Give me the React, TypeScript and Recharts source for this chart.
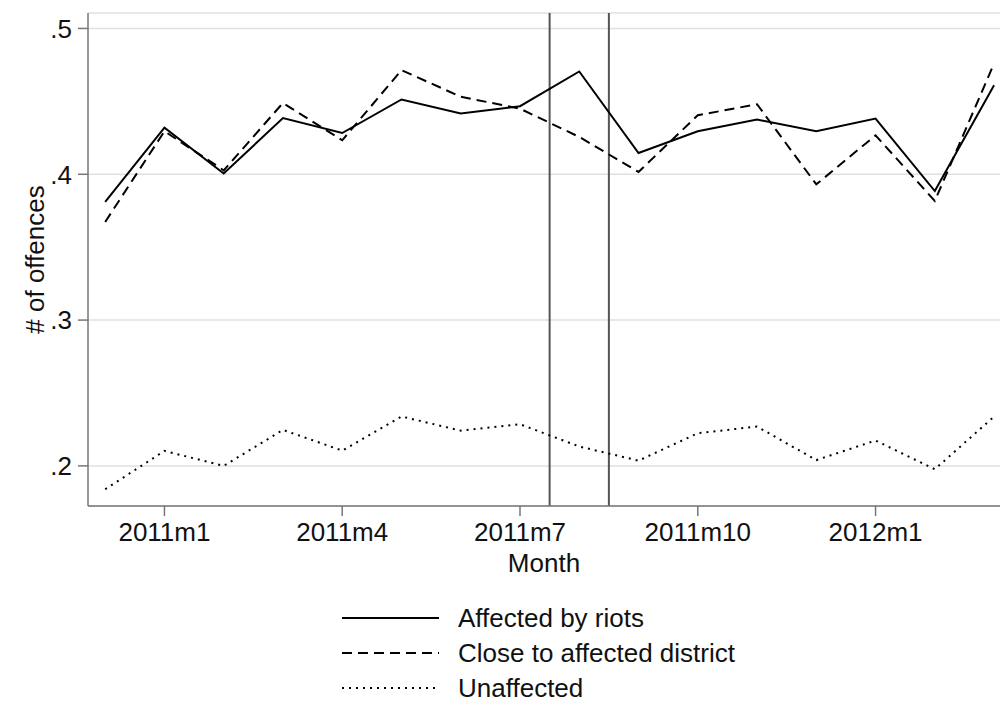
import React from 'react';
import {
  LineChart,
  Line,
  XAxis,
  YAxis,
  CartesianGrid,
  Legend,
  ReferenceLine
} from 'recharts';

const months = [
  '2010m12', '2011m1', '2011m2', '2011m3', '2011m4', '2011m5', '2011m6', '2011m7',
  '2011m8', '2011m9', '2011m10', '2011m11', '2011m12', '2012m1', '2012m2', '2012m3'
];

const affected = [
  0.381, 0.432, 0.4005, 0.4386, 0.4283, 0.4513, 0.4417, 0.4467,
  0.4705, 0.4146, 0.4295, 0.4375, 0.4295, 0.4382, 0.3885, 0.461
];

const closeTo = [
  0.3673, 0.4295, 0.4027, 0.4489, 0.4233, 0.4714, 0.4532, 0.445,
  0.4256, 0.4016, 0.4405, 0.448, 0.3931, 0.4267, 0.3817, 0.476
];

const unaffected = [
  0.184, 0.2103, 0.2, 0.2247, 0.2105, 0.2339, 0.2242, 0.2286,
  0.2133, 0.2036, 0.2224, 0.227, 0.204, 0.2174, 0.1977, 0.2338
];

const xTicks = [1, 4, 7, 10, 13];
const yTicks = [0.2, 0.3, 0.4, 0.5];
// riot period falls between July and August / August and September
const riotMarkers = [7.5, 8.5];

const legendItems = [
  { name: 'Affected by riots', dash: undefined },
  { name: 'Close to affected district', dash: '10 6' },
  { name: 'Unaffected', dash: '2 5' }
];

const FONT = '"Liberation Sans", Arial, Helvetica, sans-serif';
const FS = 26;

const data = months.map((m, i) => ({
  idx: i,
  month: m,
  affected: affected[i],
  close: closeTo[i],
  unaffected: unaffected[i]
}));

const LegendBox = () => (
  <svg width={1000} height={106} style={{ display: 'block' }}>
    {legendItems.map((item, i) => {
      const y = 17 + i * 35;
      return (
        <g key={item.name}>
          <line x1={342} x2={439} y1={y} y2={y} stroke="#000" strokeWidth={2} strokeDasharray={item.dash} />
          <text x={458} y={y} dominantBaseline="central" fontSize={FS} fontFamily={FONT} fill="#111">
            {item.name}
          </text>
        </g>
      );
    })}
  </svg>
);

export default function App() {
  return (
    <div style={{ position: 'absolute', top: 0, left: 0, background: '#fff', fontFamily: FONT }}>
      <LineChart width={1000} height={709} data={data} margin={{ top: 13, right: 0, left: 0, bottom: 2 }}>
        <CartesianGrid vertical={false} stroke="#e0e0e0" strokeWidth={1.5} />
        <XAxis
          dataKey="idx"
          type="number"
          domain={[-0.29, 15.1]}
          ticks={xTicks}
          tickFormatter={(v: number) => months[v]}
          height={95}
          tickSize={10}
          tickMargin={7}
          stroke="#777"
          strokeWidth={1.5}
          tick={{ fill: '#111', fontSize: FS, fontFamily: FONT }}
          allowDataOverflow
          label={{
            content: ({ viewBox }: any) => (
              <text
                x={viewBox.x + viewBox.width / 2}
                y={viewBox.y + 57}
                textAnchor="middle"
                dominantBaseline="central"
                fontSize={FS}
                fontFamily={FONT}
                fill="#111"
              >
                Month
              </text>
            )
          }}
        />
        <YAxis
          type="number"
          domain={[0.1725, 0.5106]}
          ticks={yTicks}
          tickFormatter={(v: number) => v.toFixed(1).replace(/^0/, '')}
          width={88}
          tickSize={10}
          tickMargin={6}
          stroke="#777"
          strokeWidth={1.5}
          tick={{ fill: '#111', fontSize: FS, fontFamily: FONT }}
          allowDataOverflow
          label={{
            content: ({ viewBox }: any) => {
              const cx = 35;
              const cy = viewBox.y + viewBox.height / 2;
              return (
                <text
                  x={cx}
                  y={cy}
                  transform={`rotate(-90 ${cx} ${cy})`}
                  textAnchor="middle"
                  dominantBaseline="central"
                  fontSize={FS}
                  fontFamily={FONT}
                  fill="#111"
                >
                  # of offences
                </text>
              );
            }
          }}
        />
        {riotMarkers.map((x) => (
          <ReferenceLine key={x} x={x} stroke="#555" strokeWidth={2} />
        ))}
        <Line dataKey="affected" name="Affected by riots" type="linear" stroke="#000" strokeWidth={2} dot={false} isAnimationActive={false} />
        <Line dataKey="close" name="Close to affected district" type="linear" stroke="#000" strokeWidth={2} strokeDasharray="10 6" dot={false} isAnimationActive={false} />
        <Line dataKey="unaffected" name="Unaffected" type="linear" stroke="#000" strokeWidth={2} strokeDasharray="2 5" dot={false} isAnimationActive={false} />
        <Legend verticalAlign="bottom" content={<LegendBox />} wrapperStyle={{ left: 0, width: 1000 }} />
      </LineChart>
    </div>
  );
}
